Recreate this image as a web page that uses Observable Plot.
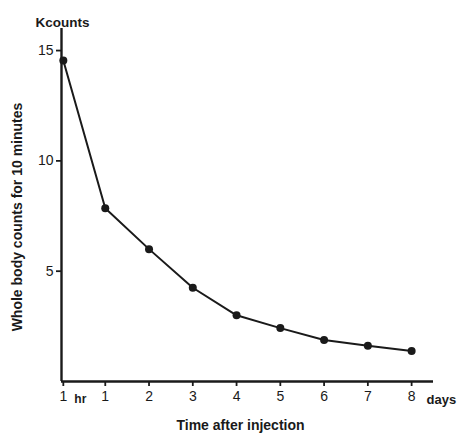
<!DOCTYPE html>
<html>
<head>
<meta charset="utf-8">
<script src="https://cdn.jsdelivr.net/npm/d3@7"></script>
<script src="https://cdn.jsdelivr.net/npm/@observablehq/plot@0.6"></script>
<style>
  html, body { margin: 0; padding: 0; background: #fff; }
  svg { display: block; }
</style>
</head>
<body>
<div id="chart"></div>
<script>
// Time after injection (days); first point is 1 hour
const times = [1/24, 1, 2, 3, 4, 5, 6, 7, 8];
// Whole body counts for 10 minutes (Kcounts)
const counts = [14.55, 7.85, 6.0, 4.25, 3.0, 2.42, 1.88, 1.62, 1.38];
const yTicks = [5, 10, 15];
const xTicks = [1/24, 1, 2, 3, 4, 5, 6, 7, 8];
const xTickLabels = ["1", "1", "2", "3", "4", "5", "6", "7", "8"];

const data = times.map((t, i) => ({t, c: counts[i]}));
const ink = "#1a1a1a";

const chart = Plot.plot({
  width: 457,
  height: 436,
  marginLeft: 61,
  marginRight: 24,
  marginTop: 28,
  marginBottom: 55,
  style: {fontFamily: "'Liberation Sans', Arial, sans-serif", fontSize: "14px", color: ink, background: "#fff"},
  x: {domain: [0, 8.5]},
  y: {domain: [0, 16]},
  marks: [
    Plot.axisY({ticks: yTicks, tickSize: 5, tickPadding: 3, label: null, strokeWidth: 1.8, fontSize: 14}),
    Plot.axisX({ticks: xTicks, tickFormat: (d, i) => xTickLabels[i], tickSize: 5, tickPadding: 5, label: null, strokeWidth: 1.8, fontSize: 14}),
    Plot.ruleX([0], {y1: 0, y2: 16, stroke: ink, strokeWidth: 2.4}),
    Plot.ruleY([0], {x1: 0, x2: 8.5, stroke: ink, strokeWidth: 2.4}),
    Plot.line(data, {x: "t", y: "c", stroke: ink, strokeWidth: 2}),
    Plot.dot(data, {x: "t", y: "c", r: 4, fill: ink, stroke: "none"}),
    Plot.text(["hr"], {x: xTicks[0], y: 0, dy: 18, dx: 17, fontSize: 12, fill: ink, fontWeight: "bold"}),
    Plot.text(["days"], {x: xTicks[8], y: 0, dy: 18, dx: 15, textAnchor: "start", fontSize: 13, fill: ink, fontWeight: "bold"}),
    Plot.text(["Kcounts"], {frameAnchor: "top-left", dx: 1, dy: -11, textAnchor: "middle", fontSize: 13.5, fontWeight: "bold", fill: ink}),
    Plot.text(["Whole body counts for 10 minutes"], {frameAnchor: "left", rotate: -90, dx: -44, dy: 12, textAnchor: "middle", fontSize: 14, fontWeight: "bold", fill: ink}),
    Plot.text(["Time after injection"], {frameAnchor: "bottom", dx: -7, dy: 48, textAnchor: "middle", fontSize: 14, fontWeight: "bold", fill: ink})
  ]
});
document.getElementById("chart").appendChild(chart);
</script>
</body>
</html>
